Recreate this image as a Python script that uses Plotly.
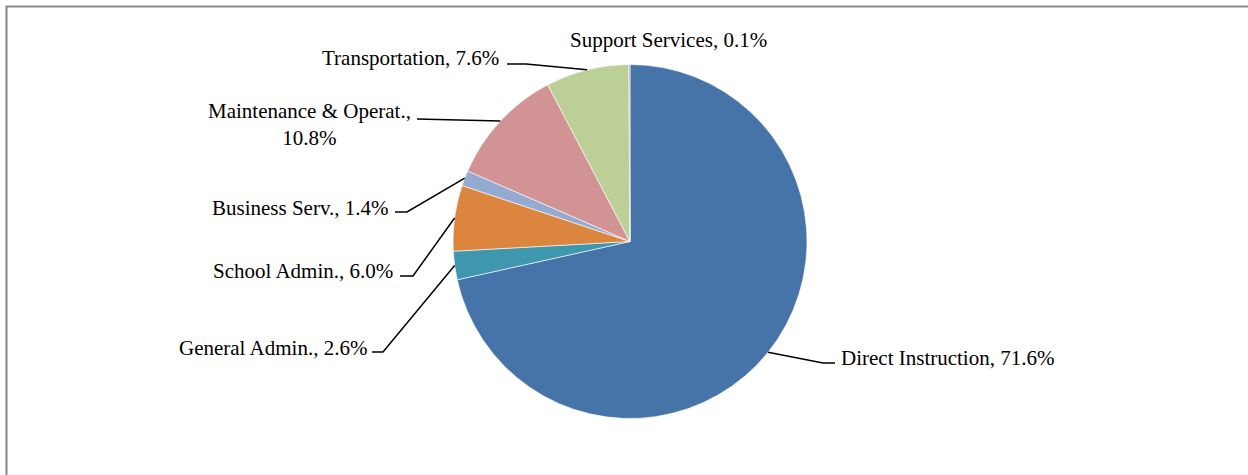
import math
import plotly.graph_objects as go

# ---- data ----
categories = ["Direct Instruction", "General Admin.", "School Admin.", "Business Serv.",
              "Maintenance & Operat.", "Transportation", "Support Services"]
shares = [71.6, 2.6, 6.0, 1.4, 10.8, 7.6, 0.1]

# ---- styles ----
colors = ["#4674A8", "#3E97AF", "#DC853E", "#94AAD0", "#D29394", "#BBCF97", "#A99BBD"]

W, H = 1248, 475
CX, CY, R = 630.0, 241.5, 177.0

# label placement (pixels): anchor point, anchor side, leader-line elbow points (from slice side)
label_pos = {
    "Direct Instruction":    dict(x=839, y=358, xanchor="left",   elbow=[(823, 363), (835, 363)]),
    "General Admin.":        dict(x=369, y=348, xanchor="right",  elbow=[(383, 352), (372, 352)]),
    "School Admin.":         dict(x=395, y=271, xanchor="right",  elbow=[(413, 276), (400, 276)]),
    "Business Serv.":        dict(x=391, y=208, xanchor="right",  elbow=[(407, 212), (395, 212)]),
    "Maintenance & Operat.": dict(x=309, y=125, xanchor="center", elbow=[(417, 119)]),
    "Transportation":        dict(x=501, y=58,  xanchor="right",  elbow=[(526, 64), (507, 64)]),
    "Support Services":      dict(x=668, y=40,  xanchor="center", elbow=None),
}


def px(x, y):
    return x / W, 1 - y / H


fig = go.Figure()
fig.add_trace(go.Pie(
    labels=categories,
    values=shares,
    sort=False,
    direction="clockwise",
    rotation=0,
    textinfo="none",
    marker=dict(colors=colors, line=dict(color="white", width=0.6)),
    domain=dict(x=[(CX - R) / W, (CX + R) / W], y=[1 - (CY + R) / H, 1 - (CY - R) / H]),
    showlegend=False,
))

total = sum(shares)
cum = 0.0
shapes = []
annotations = []
for name, s in zip(categories, shares):
    mid = (cum + s / 2) / total * 2 * math.pi
    cum += s
    ex, ey = CX + R * math.sin(mid), CY - R * math.cos(mid)
    lp = label_pos[name]
    if name == "Maintenance & Operat.":
        text = f"{name},<br>{s:.1f}%"
    else:
        text = f"{name}, {s:.1f}%"
    ax, ay = px(lp["x"], lp["y"])
    annotations.append(dict(
        x=ax, y=ay, xref="paper", yref="paper", text=text, showarrow=False,
        xanchor=lp["xanchor"], yanchor="middle", align="center",
        font=dict(family="Liberation Serif, Times New Roman, serif", size=21, color="black"),
    ))
    if lp["elbow"]:
        pts = [(ex, ey)] + lp["elbow"]
        path = "M " + " L ".join(f"{px(a, b)[0]:.5f},{px(a, b)[1]:.5f}" for a, b in pts)
        shapes.append(dict(type="path", xref="paper", yref="paper", path=path,
                           line=dict(color="black", width=1.5)))

# chart-area border (only top and left edges fall inside the picture)
shapes.append(dict(type="rect", xref="paper", yref="paper",
                   x0=6.5 / W, x1=1.05, y0=-0.05, y1=1 - 6.5 / H,
                   line=dict(color="#888888", width=2)))

fig.update_layout(
    width=W, height=H,
    margin=dict(l=0, r=0, t=0, b=0),
    paper_bgcolor="white", plot_bgcolor="white",
    shapes=shapes, annotations=annotations,
)

fig.write_html(
    "out.html",
    config={"displayModeBar": False},
    post_script="document.body.style.margin='0';document.body.style.overflow='hidden';",
)
